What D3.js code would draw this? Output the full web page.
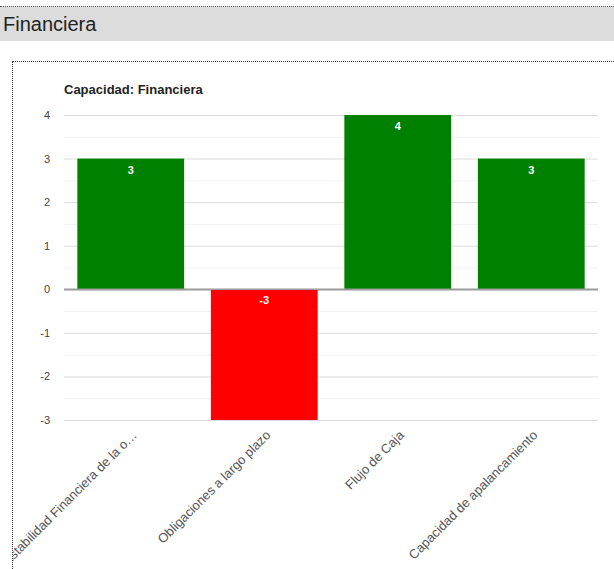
<!DOCTYPE html>
<html>
<head>
<meta charset="utf-8">
<script src="https://cdn.jsdelivr.net/npm/d3@7"></script>
<style>
  html, body { margin: 0; padding: 0; background: #fff; overflow: hidden; }
  body { width: 614px; height: 569px; position: relative; font-family: "Liberation Sans", Arial, sans-serif; }
  .header { position: absolute; left: 0; top: 6px; width: 614px; height: 35px; background: #dcdcdc;
            border-top: 1px dotted #555; box-sizing: border-box; }
  .header span { position: absolute; left: 3px; top: 6px; font-size: 20px; color: #222; }
  .panel { position: absolute; left: 12px; top: 61px; width: 620px; height: 520px; overflow: hidden;
           border-top: 1px dotted #333; border-left: 1px dotted #333; box-sizing: border-box; }
  svg { position: absolute; left: -13px; top: -62px; }
</style>
</head>
<body>
<div class="header"><span>Financiera</span></div>
<div class="panel"><svg id="chart" width="614" height="569"></svg></div>
<script>
// Capacity indicators for the "Financiera" block
const categories = [
  "Estabilidad Financiera de la o…",
  "Obligaciones a largo plazo",
  "Flujo de Caja",
  "Capacidad de apalancamiento"
];
const values = [3, -3, 4, 3];
const yTicks = [-3, -2, -1, 0, 1, 2, 3, 4];
const chartTitle = "Capacidad: Financiera";

const svg = d3.select("#chart");
const plot = { left: 64, right: 598, top: 115, bottom: 420 };

const x = d3.scaleBand()
  .domain(categories)
  .range([plot.left, plot.right])
  .paddingInner(0.2)
  .paddingOuter(0.1);

const y = d3.scaleLinear()
  .domain([-3, 4])
  .range([plot.bottom, plot.top]);

const font = "'Liberation Sans', Arial, sans-serif";

// Minor gridlines at half steps
const minor = d3.range(-2.5, 4, 1);
svg.append("g").selectAll("line").data(minor).join("line")
  .attr("x1", plot.left).attr("x2", plot.right)
  .attr("y1", d => y(d) + 0.5).attr("y2", d => y(d) + 0.5)
  .attr("stroke", "#f1f1f1").attr("stroke-width", 1);

// Major gridlines and y-axis labels
const yAxis = d3.axisLeft(y).tickValues(yTicks).tickSize(plot.left - plot.right).tickFormat(d => String(d));
const gy = svg.append("g").attr("transform", `translate(${plot.left},0)`).call(yAxis);
gy.select(".domain").remove();
gy.selectAll(".tick line")
  .attr("stroke", d => d === 0 ? "#9a9a9a" : "#dcdcdc")
  .attr("stroke-width", d => d === 0 ? 1.5 : 1);
gy.selectAll(".tick text")
  .attr("x", -14)
  .attr("fill", "#444")
  .style("font-size", "11px")
  .style("font-family", font);

// Bars
svg.append("g").selectAll("rect").data(values).join("rect")
  .attr("x", (d, i) => x(categories[i]))
  .attr("width", x.bandwidth())
  .attr("y", d => Math.min(y(d), y(0)))
  .attr("height", d => Math.abs(y(d) - y(0)))
  .attr("fill", d => d < 0 ? "#ff0000" : "#008000");

// Redraw zero line over bars
svg.append("line")
  .attr("x1", plot.left).attr("x2", plot.right)
  .attr("y1", y(0)).attr("y2", y(0))
  .attr("stroke", "#9a9a9a").attr("stroke-width", 1.5);

// Value labels inside bars
svg.append("g").selectAll("text").data(values).join("text")
  .attr("x", (d, i) => x(categories[i]) + x.bandwidth() / 2)
  .attr("y", d => Math.min(y(d), y(0)) + 15)
  .attr("text-anchor", "middle")
  .attr("fill", "#fff")
  .style("font-size", "11px")
  .style("font-weight", "bold")
  .style("font-family", font)
  .text(d => d);

// Rotated category labels (the first one runs past the panel edge and is clipped)
svg.append("g").selectAll("text").data(categories).join("text")
  .attr("transform", d => `translate(${x(d) + x.bandwidth() / 2 + 7},${plot.bottom + 16}) rotate(-45)`)
  .attr("text-anchor", "end")
  .attr("fill", "#555")
  .style("font-size", "13px")
  .style("font-family", font)
  .text(d => d);

// Chart title
svg.append("text")
  .attr("x", plot.left)
  .attr("y", 94)
  .attr("fill", "#222")
  .style("font-size", "13px")
  .style("font-weight", "bold")
  .style("font-family", font)
  .text(chartTitle);
</script>
</body>
</html>
